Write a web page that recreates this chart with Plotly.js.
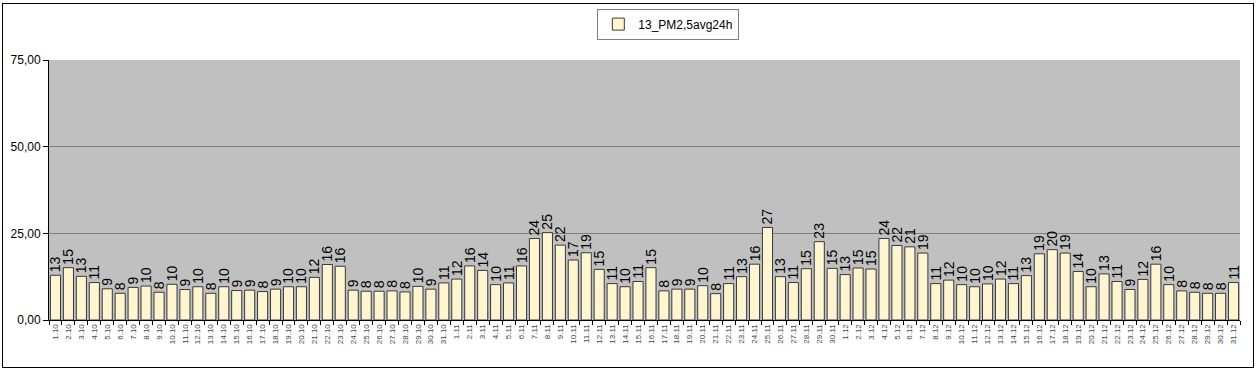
<!DOCTYPE html>
<html><head><meta charset="utf-8">
<script src="https://cdn.plot.ly/plotly-3.0.1.min.js"></script>
<style>html,body{margin:0;padding:0;background:#fff;}#wrap{position:relative;width:1258px;height:372px;}#chart{width:1258px;height:372px;}#frame{position:absolute;left:2px;top:3px;width:1250px;height:363px;border:1px solid #000;pointer-events:none;}</style>
</head><body>
<div id="wrap"><div id="chart"></div><div id="frame"></div></div>
<script>
const dates = [
"1.10","2.10","3.10","4.10","5.10","6.10","7.10","8.10","9.10","10.10","11.10","12.10","13.10","14.10","15.10","16.10","17.10","18.10","19.10","20.10","21.10","22.10","23.10","24.10","25.10","26.10","27.10","28.10","29.10","30.10","31.10",
"1.11","2.11","3.11","4.11","5.11","6.11","7.11","8.11","9.11","10.11","11.11","12.11","13.11","14.11","15.11","16.11","17.11","18.11","19.11","20.11","21.11","22.11","23.11","24.11","25.11","26.11","27.11","28.11","29.11","30.11",
"1.12","2.12","3.12","4.12","5.12","6.12","7.12","8.12","9.12","10.12","11.12","12.12","13.12","14.12","15.12","16.12","17.12","18.12","19.12","20.12","21.12","22.12","23.12","24.12","25.12","26.12","27.12","28.12","29.12","30.12","31.12"];
const pm25 = [
12.9,15.1,12.6,10.8,9.0,7.7,9.4,9.8,8.0,10.3,8.8,9.6,7.7,9.6,8.5,8.6,8.2,8.9,9.6,9.6,12.3,16.0,15.5,8.6,8.3,8.3,8.4,8.1,9.7,8.9,10.7,
11.8,15.6,14.3,10.2,10.7,15.6,23.5,25.2,21.6,17.3,19.4,14.6,10.5,9.6,11.1,15.1,8.4,8.9,8.9,9.9,7.6,10.5,12.5,16.1,26.7,12.5,10.8,14.8,22.6,14.9,
13.1,15.0,14.7,23.5,21.5,21.1,19.3,10.5,11.5,10.2,9.6,10.4,11.8,10.5,12.8,19.1,20.3,19.3,14.0,9.6,13.3,11.1,8.8,11.7,16.1,10.2,8.4,8.0,7.7,7.7,10.8];
const yTicks = [0,25,50,75];

Plotly.newPlot('chart', [{
  type:'bar', x:dates, y:pm25, name:'13_PM2,5avg24h',
  marker:{color:'#FFF5D0', line:{color:'#3a3a3a', width:1}},
  texttemplate:'%{y:.0f}', textposition:'outside', textangle:-90, cliponaxis:false,
  constraintext:'none',
  textfont:{family:'Arial, Liberation Sans, sans-serif', size:14, color:'#000'}
}], {
  width:1258, height:372,
  margin:{l:49, r:18, t:60, b:52, autoexpand:false},
  paper_bgcolor:'#fff', plot_bgcolor:'#C0C0C0',
  separators:', ',
  bargap:0.22,
  showlegend:true,
  legend:{x:0.52, xanchor:'center', y:1.138, yanchor:'middle', orientation:'h',
    bgcolor:'#fff', bordercolor:'#808080', borderwidth:1, itemwidth:30,
    font:{family:'Arial, Liberation Sans, sans-serif', size:12, color:'#000'}},
  xaxis:{type:'category', tickangle:-90, tickson:'boundaries', ticks:'outside', ticklen:4,
    tickcolor:'#000', showline:true, linecolor:'#000', linewidth:1, showgrid:false,
    tickfont:{family:'Arial, Liberation Sans, sans-serif', size:8, color:'#444'}, automargin:false},
  yaxis:{range:[0,75], tickvals:yTicks, tickformat:'.2f', ticks:'outside', ticklen:5, tickcolor:'#000',
    showline:true, linecolor:'#000', linewidth:1, showgrid:true, gridcolor:'#808080', gridwidth:1,
    zeroline:false,
    tickfont:{family:'Arial, Liberation Sans, sans-serif', size:12, color:'#000'}, automargin:false}
}, {displayModeBar:false, staticPlot:true});
</script>
</body></html>
